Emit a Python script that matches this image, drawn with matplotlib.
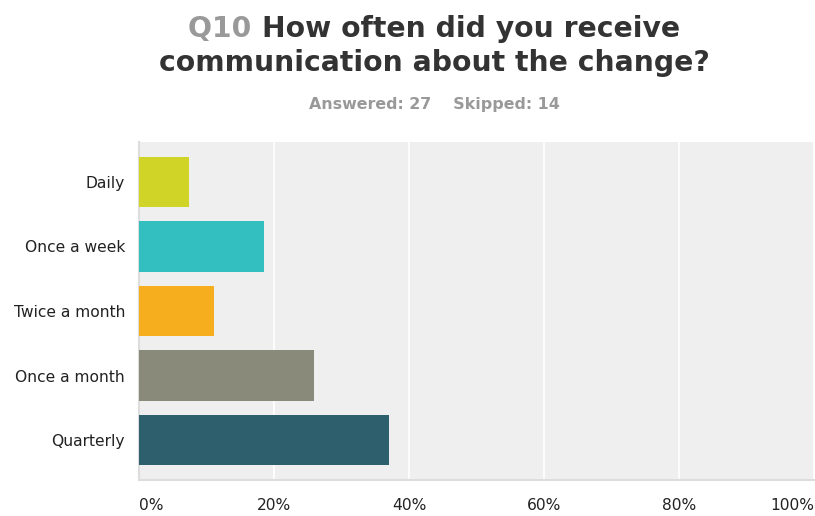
import matplotlib
matplotlib.use("Agg")
import matplotlib.pyplot as plt

categories = ["Daily", "Once a week", "Twice a month", "Once a month", "Quarterly"]
values = [7.41, 18.52, 11.11, 25.93, 37.04]
colors = ["#cfd427", "#33bec0", "#f6ae1f", "#898a7a", "#2e5f6c"]
xticks = [0, 20, 40, 60, 80, 100]
xtick_labels = ["0%", "20%", "40%", "60%", "80%", "100%"]

fig = plt.figure(figsize=(8.15, 5.16), dpi=100)
ax = fig.add_axes([139/815, 1-480/516, 675/815, 338/516])
ax.set_facecolor("#efefef")
y = list(range(len(categories)))
ax.barh(y, values, height=0.79, color=colors, zorder=3)
ax.set_xlim(0, 100)
ax.set_ylim(len(categories) - 1 + 0.62, -0.62)
ax.set_yticks(y)
ax.set_yticklabels(categories, fontsize=11.2, family="DejaVu Sans", color="#222222")
ax.set_xticks(xticks)
ax.set_xticklabels(xtick_labels, fontsize=11.2, family="DejaVu Sans", color="#222222")
ax.tick_params(axis="both", length=0)
ax.tick_params(axis="y", pad=10)
ax.tick_params(axis="x", pad=13)
labs = ax.get_xticklabels()
labs[0].set_ha("left")
labs[-1].set_ha("right")
ax.grid(axis="x", color="white", linewidth=1.2, zorder=1)
for s in ["top", "right"]:
    ax.spines[s].set_visible(False)
for s in ["left", "bottom"]:
    ax.spines[s].set_color("#dddddd")
    ax.spines[s].set_linewidth(1.5)

# Title with two colours on first line
cx = 434 / 815
fs = 20.3
fig.canvas.draw()
r = fig.canvas.get_renderer()
part1 = "Q10 "
part2 = "How often did you receive"
t_full = fig.text(cx, 1 - 29/516, part1 + part2, fontsize=fs, fontweight="bold",
                  ha="center", va="center", family="DejaVu Sans", alpha=0)
bb = t_full.get_window_extent(renderer=r)
x0 = bb.x0 / fig.bbox.width
t1 = fig.text(x0, 1 - 29/516, part1, fontsize=fs, fontweight="bold",
              ha="left", va="center", color="#999999", family="DejaVu Sans")
b1 = t1.get_window_extent(renderer=r)
fig.text(b1.x1 / fig.bbox.width, 1 - 29/516, part2, fontsize=fs, fontweight="bold",
         ha="left", va="center", color="#333333", family="DejaVu Sans")
fig.text(cx, 1 - 63/516, "communication about the change?", fontsize=fs, fontweight="bold",
         ha="center", va="center", color="#333333", family="DejaVu Sans")
fig.text(cx, 1 - 104/516, "Answered: 27    Skipped: 14", fontsize=11.4, fontweight="bold",
         ha="center", va="center", color="#999999", family="DejaVu Sans")

fig.savefig("out.png", dpi=100, facecolor="white")
